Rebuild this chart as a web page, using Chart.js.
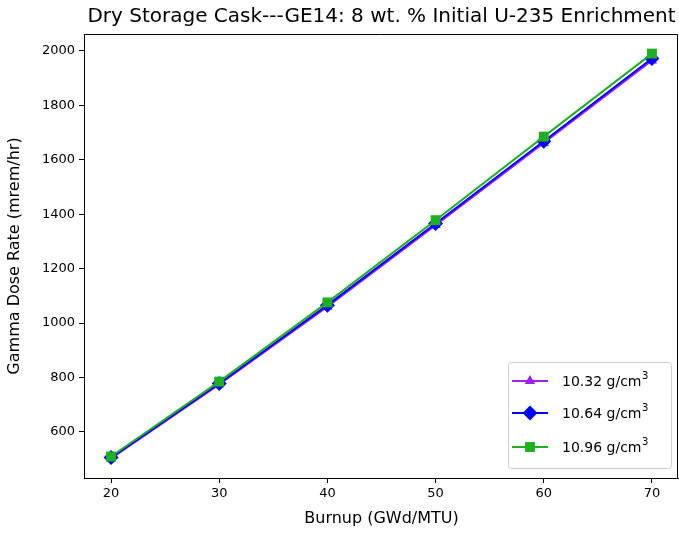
<!DOCTYPE html>
<html>
<head>
<meta charset="utf-8">
<script src="https://cdn.jsdelivr.net/npm/chart.js@4/dist/chart.umd.min.js"></script>
<style>
  html, body { margin: 0; padding: 0; background: #fff; }
  #wrap { width: 679px; height: 534px; }
</style>
</head>
<body>
<div id="wrap"><canvas id="doseChart" width="679" height="534"></canvas></div>
<script>
const FONT = "'DejaVu Sans', sans-serif";

const burnup = [20, 30, 40, 50, 60, 70];
const dose1032 = [503, 775, 1060, 1360, 1662, 1965];
const dose1064 = [506, 778, 1066, 1366, 1668, 1972];
const dose1096 = [510, 785, 1076, 1378, 1685, 1990];

const xTicks = [20, 30, 40, 50, 60, 70];
const yTicks = [600, 800, 1000, 1200, 1400, 1600, 1800, 2000];

const seriesLabels = ["10.32 g/cm³", "10.64 g/cm³", "10.96 g/cm³"];
const seriesColors = ["#a020f0", "#0000ff", "#1fb01f"];
const seriesMarkers = ["triangle", "rectRot", "rect"];
const markerRadius = [6, 7.5, 7];

const titleText = "Dry Storage Cask---GE14: 8 wt. % Initial U-235 Enrichment";
const xLabel = "Burnup (GWd/MTU)";
const yLabel = "Gamma Dose Rate (mrem/hr)";

const toPoints = vals => burnup.map((b, i) => ({ x: b, y: vals[i] }));

const datasets = [dose1032, dose1064, dose1096].map((vals, i) => ({
  label: seriesLabels[i],
  data: toPoints(vals),
  borderColor: seriesColors[i],
  backgroundColor: seriesColors[i],
  borderWidth: 2,
  pointStyle: seriesMarkers[i],
  pointRadius: markerRadius[i],
  pointBorderWidth: 0,
  pointHoverRadius: markerRadius[i],
  order: 2 - i,
  tension: 0
}));

// title, axis labels, frame and legend drawn by hand (matplotlib look)
const decor = {
  id: "decor",
  afterDraw(chart) {
    const { ctx, chartArea: a } = chart;
    ctx.save();
    // top / right frame
    ctx.strokeStyle = "#000";
    ctx.lineWidth = 1;
    ctx.beginPath();
    ctx.moveTo(a.left, a.top + 0.5);
    ctx.lineTo(a.right - 1.5, a.top + 0.5);
    ctx.lineTo(a.right - 1.5, a.bottom);
    ctx.stroke();

    ctx.fillStyle = "#000";
    ctx.font = "20px " + FONT;
    ctx.textAlign = "center";
    ctx.textBaseline = "middle";
    ctx.fillText(titleText, (a.left + a.right) / 2, 17);

    ctx.font = "16px " + FONT;
    ctx.fillText(xLabel, (a.left + a.right) / 2, 519);
    ctx.save();
    ctx.translate(15, (a.top + a.bottom) / 2);
    ctx.rotate(-Math.PI / 2);
    ctx.fillText(yLabel, 0, 0);
    ctx.restore();

    // legend
    const bx = 508, by = 362, bw = 163, bh = 106;
    ctx.fillStyle = "rgba(255,255,255,0.8)";
    ctx.strokeStyle = "#cccccc";
    ctx.beginPath();
    ctx.roundRect(bx + 0.5, by + 0.5, bw, bh, 3);
    ctx.fill();
    ctx.stroke();
    const rows = [381, 413, 447];
    seriesLabels.forEach((lab, i) => {
      const y = rows[i];
      ctx.strokeStyle = seriesColors[i];
      ctx.lineWidth = 2;
      ctx.beginPath();
      ctx.moveTo(512, y);
      ctx.lineTo(548, y);
      ctx.stroke();
      ctx.fillStyle = seriesColors[i];
      Chart.helpers.drawPoint(ctx, {
        pointStyle: seriesMarkers[i],
        radius: markerRadius[i],
        rotation: 0,
        borderWidth: 0
      }, 530, y);
      ctx.fillStyle = "#000";
      ctx.font = "14px " + FONT;
      ctx.textAlign = "left";
      const base = lab.replace("³", "");
      ctx.fillText(base, 562, y + 1);
      const w = ctx.measureText(base).width;
      ctx.font = "10px " + FONT;
      ctx.fillText("3", 562 + w + 0.5, y - 5);
    });
    ctx.restore();
  }
};

new Chart(document.getElementById("doseChart"), {
  type: "line",
  data: { datasets },
  options: {
    responsive: false,
    animation: false,
    layout: { autoPadding: false, padding: { top: 34, right: 0, left: 0, bottom: 0 } },
    plugins: {
      legend: { display: false },
      title: { display: false },
      tooltip: { enabled: false }
    },
    scales: {
      x: {
        type: "linear",
        min: 17.5,
        max: 72.5,
        afterBuildTicks: s => { s.ticks = xTicks.map(v => ({ value: v })); },
        afterFit: s => { s.height = 56; s.paddingLeft = 0; s.paddingRight = 0; },
        grid: { drawOnChartArea: false, drawTicks: true, tickLength: 5, tickColor: "#000" },
        border: { color: "#000", width: 1 },
        ticks: { color: "#000", font: { family: FONT, size: 13 }, padding: 3, maxRotation: 0,
                 callback: v => String(v) }
      },
      y: {
        type: "linear",
        min: 431,
        max: 2062,
        afterBuildTicks: s => { s.ticks = yTicks.map(v => ({ value: v })); },
        afterFit: s => { s.width = 84; s.paddingTop = 0; s.paddingBottom = 0; },
        grid: { drawOnChartArea: false, drawTicks: true, tickLength: 5, tickColor: "#000" },
        border: { color: "#000", width: 1 },
        ticks: { color: "#000", font: { family: FONT, size: 13 }, padding: 4,
                 callback: v => String(v) }
      }
    }
  },
  plugins: [decor]
});
</script>
</body>
</html>
